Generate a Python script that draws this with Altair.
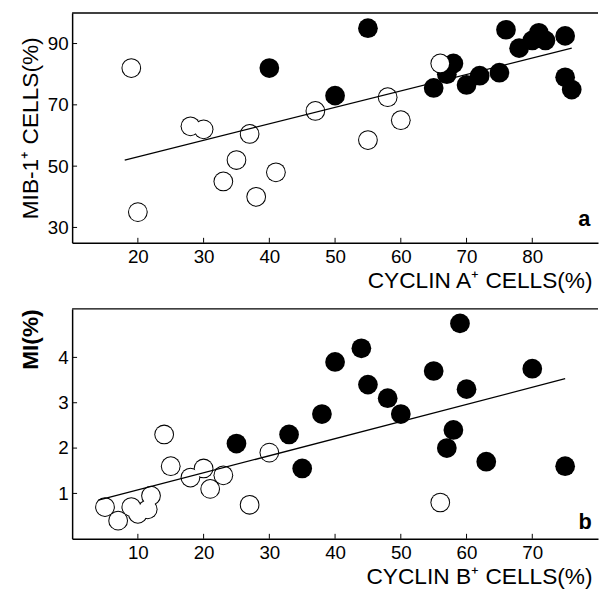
import altair as alt
import pandas as pd

# ---------------- data ----------------
# panel a : CYCLIN A+ cells (%) vs MIB-1+ cells (%)
a_open_x = [19, 20, 28, 30, 37, 35, 33, 38, 41, 47, 58, 60, 55, 66]
a_open_y = [82, 35, 63, 62, 60.5, 52, 45, 40, 48, 68, 72.5, 65, 58.5, 83.5]
a_fill_x = [40, 50, 55, 65, 67, 68, 70, 72, 75, 76, 78, 80, 81, 82, 85, 85, 86]
a_fill_y = [82, 73, 95, 75.5, 80, 83.5, 76.5, 79.5, 80.5, 94.5, 88.5, 91, 93.5, 91, 92.5, 79, 75]
a_line_x = [18, 86]
a_line_y = [52, 88.5]
a_xticks = [20, 30, 40, 50, 60, 70, 80]
a_yticks = [30, 50, 70, 90]
a_xdomain = [10, 90]
a_ydomain = [25, 100]

# panel b : CYCLIN B+ cells (%) vs MI (%)
b_open_x = [5, 7, 9, 10, 11.5, 12, 14, 15, 18, 20, 21, 23, 27, 30, 56]
b_open_y = [0.7, 0.4, 0.7, 0.55, 0.65, 0.95, 2.3, 1.6, 1.35, 1.55, 1.1, 1.4, 0.75, 1.9, 0.8]
b_fill_x = [25, 33, 35, 38, 40, 44, 45, 48, 50, 55, 59, 60, 58, 57, 63, 70, 75]
b_fill_y = [2.1, 2.3, 1.55, 2.75, 3.9, 4.2, 3.4, 3.1, 2.75, 3.7, 4.75, 3.3, 2.4, 2.0, 1.7, 3.75, 1.6]
b_line_x = [4, 75]
b_line_y = [0.85, 3.53]
b_xticks = [10, 20, 30, 40, 50, 60, 70]
b_yticks = [1, 2, 3, 4]
b_xdomain = [0, 80]
b_ydomain = [0, 5.07]

# ---------------- style ----------------
W, H = 533, 233
FONT = "Liberation Sans"
LAB = 19
TIT = 23


def panel(open_x, open_y, fill_x, fill_y, line_x, line_y, xticks, yticks,
          xdom, ydom, xtitle, ytitle, ybold, yanchor, letter, lx, ly, xty):
    xs = alt.Scale(domain=xdom, nice=False, zero=False)
    ys = alt.Scale(domain=ydom, nice=False, zero=False)

    allpts = pd.DataFrame({"x": open_x + fill_x, "y": open_y + fill_y})
    openpts = pd.DataFrame({"x": open_x, "y": open_y})
    line = pd.DataFrame({"x": line_x, "y": line_y})
    xt = pd.DataFrame({"x": xticks})
    yt = pd.DataFrame({"y": yticks})

    xaxis = alt.Axis(values=xticks, format="d", tickSize=0, grid=False,
                     domainColor="black", domainWidth=1.5,
                     labelFont=FONT, labelFontSize=LAB, labelColor="black",
                     labelPadding=5, title=xtitle, titleFont=FONT,
                     titleFontSize=TIT, titleFontWeight="normal", titleColor="black",
                     titleAnchor="end", titleAlign="right", titleBaseline="alphabetic",
                     titleX=W - 6, titleY=xty)
    yaxis = alt.Axis(values=yticks, format="d", tickSize=0, grid=False,
                     domainColor="black", domainWidth=1.5,
                     labelFont=FONT, labelFontSize=LAB, labelColor="black",
                     labelPadding=4, title=ytitle, titleFont=FONT,
                     titleFontSize=TIT, titleColor="black",
                     titleFontWeight="bold" if ybold else "normal",
                     titleX=-42, titleBaseline="middle", titleAnchor=yanchor)

    X = alt.X("x:Q", scale=xs, axis=xaxis, title=xtitle)
    Y = alt.Y("y:Q", scale=ys, axis=yaxis, title=ytitle)

    outer = alt.Chart(allpts).mark_circle(size=400, color="black", opacity=1).encode(x=X, y=Y)
    inner = alt.Chart(openpts).mark_circle(size=322, color="white", opacity=1).encode(x=X, y=Y)
    reg = alt.Chart(line).mark_line(color="black", strokeWidth=1.3).encode(x=X, y=Y)
    xtick = alt.Chart(xt).mark_rule(color="black", strokeWidth=1).encode(
        x=X, y=alt.value(H), y2=alt.value(H - 5),
    )
    ytick = alt.Chart(yt).mark_rule(color="black", strokeWidth=1).encode(
        y=Y, x=alt.value(0), x2=alt.value(5),
    )
    top = alt.Chart(pd.DataFrame({"d": [0]})).mark_rule(color="black", strokeWidth=1.5).encode(
        x=alt.value(0), x2=alt.value(W), y=alt.value(0)
    )
    lab = alt.Chart(pd.DataFrame({"t": [letter]})).mark_text(
        font=FONT, fontSize=22, fontWeight="bold", color="black",
        align="center", baseline="alphabetic"
    ).encode(text="t:N", x=alt.value(lx), y=alt.value(ly))

    return alt.layer(outer, inner, reg, xtick, ytick, top, lab).properties(width=W, height=H)


pa = panel(a_open_x, a_open_y, a_fill_x, a_fill_y, a_line_x, a_line_y, a_xticks, a_yticks,
           a_xdomain, a_ydomain, "CYCLIN A⁺ CELLS(%)", "MIB-1⁺ CELLS(%)", False, "middle",
           "a", W - 14, H - 17, 45)
pb = panel(b_open_x, b_open_y, b_fill_x, b_fill_y, b_line_x, b_line_y, b_xticks, b_yticks,
           b_xdomain, b_ydomain, "CYCLIN B⁺ CELLS(%)", "MI(%)", True, "end",
           "b", W - 13, H - 10, 45)

chart = alt.vconcat(pa, pb, spacing=67, bounds="flush").properties(
    padding={"left": 11, "top": 0, "right": 0, "bottom": 0},
    background="white",
).configure_view(stroke=None)

chart.save("out.html", embed_options={"renderer": "svg", "actions": False})
